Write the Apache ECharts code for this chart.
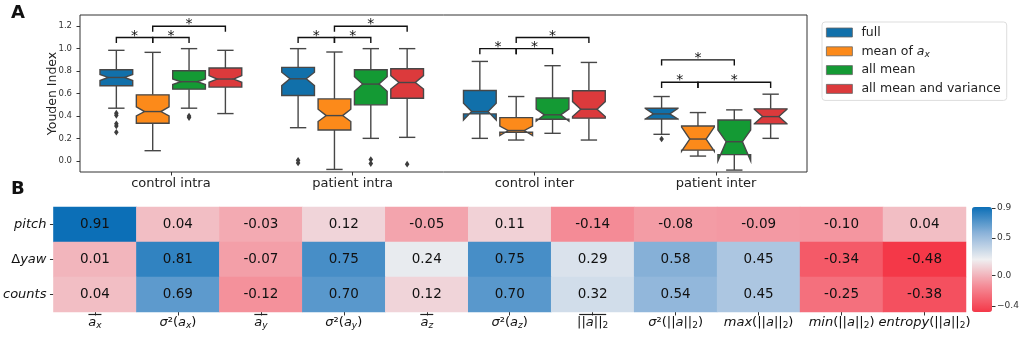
<!DOCTYPE html>
<html>
<head>
<meta charset="utf-8">
<script src="https://cdn.jsdelivr.net/npm/echarts@6/dist/echarts.min.js"></script>
<style>
html, body { margin: 0; background: #fff; }
#main { width: 1024px; height: 338px; }
</style>
</head>
<body>
<div id="main"></div>
<script>
// ---- panel A: Youden index box plots ----
const groups = ['control intra', 'patient intra', 'control inter', 'patient inter'];
const hueNames = ['full', 'mean of a_x', 'all mean', 'all mean and variance'];
const hueColors = ['#1170aa', '#fc8a1a', '#149a34', '#dc3a3c'];

// per group: [whiskerLow, q1, notchLow, median, notchHigh, q3, whiskerHigh]
const boxFull = [
  [0.469, 0.669, 0.715, 0.743, 0.77, 0.812, 0.985],
  [0.295, 0.582, 0.67, 0.731, 0.79, 0.833, 1.0],
  [0.20, 0.418, 0.364, 0.439, 0.514, 0.627, 0.886],
  [0.236, 0.373, 0.372, 0.418, 0.468, 0.469, 0.573]
];
const boxMeanAx = [
  [0.09, 0.335, 0.40, 0.439, 0.48, 0.588, 0.967],
  [-0.077, 0.275, 0.35, 0.403, 0.46, 0.552, 0.97],
  [0.185, 0.255, 0.225, 0.27, 0.31, 0.385, 0.573],
  [0.042, 0.095, 0.085, 0.194, 0.30, 0.31, 0.43]
];
const boxAllMean = [
  [0.469, 0.639, 0.68, 0.705, 0.73, 0.803, 1.0],
  [0.20, 0.499, 0.62, 0.684, 0.75, 0.812, 1.0],
  [0.245, 0.37, 0.355, 0.41, 0.46, 0.56, 0.848],
  [-0.083, 0.055, 0.0, 0.17, 0.275, 0.364, 0.454]
];
const boxAllMeanVar = [
  [0.421, 0.657, 0.70, 0.729, 0.76, 0.827, 0.985],
  [0.209, 0.558, 0.64, 0.698, 0.76, 0.821, 1.0],
  [0.185, 0.38, 0.394, 0.46, 0.528, 0.624, 0.877],
  [0.20, 0.329, 0.33, 0.394, 0.46, 0.463, 0.594]
];
// [group, hue, value]
const outliers = [
  [0, 0, 0.425], [0, 0, 0.405], [0, 0, 0.33], [0, 0, 0.31], [0, 0, 0.255],
  [0, 2, 0.40], [0, 2, 0.385],
  [1, 0, 0.005], [1, 0, -0.02],
  [1, 2, 0.012], [1, 2, -0.025],
  [1, 3, -0.03],
  [3, 0, 0.194]
];
// significance brackets: [group, hueFrom, hueTo, level, legEnd]
const brackets = [
  [0, 0, 1, 1.10, 1.05], [0, 1, 2, 1.10, 1.05], [0, 1, 3, 1.20, 1.15],
  [1, 0, 1, 1.10, 1.05], [1, 1, 2, 1.10, 1.05], [1, 1, 3, 1.20, 1.15],
  [2, 0, 1, 1.00, 0.95], [2, 1, 2, 1.00, 0.95], [2, 1, 3, 1.10, 1.05],
  [3, 0, 1, 0.70, 0.65], [3, 1, 3, 0.70, 0.65], [3, 0, 2, 0.90, 0.85]
];
const yTicks = [0, 0.2, 0.4, 0.6, 0.8, 1.0, 1.2];

// ---- panel B: correlation heatmap ----
const featLabels = [
  '{ol1| }\n{i|a}{s|x}',
  '{sp| }\n{i|σ}{r|²(}{i|a}{s|x}{r|)}',
  '{ol1| }\n{i|a}{s|y}',
  '{sp| }\n{i|σ}{r|²(}{i|a}{s|y}{r|)}',
  '{ol1| }\n{i|a}{s|z}',
  '{sp| }\n{i|σ}{r|²(}{i|a}{s|z}{r|)}',
  '{ol2| }\n{r|||}{i|a}{r|||}{sr|2}',
  '{sp| }\n{i|σ}{r|²(||}{i|a}{r|||}{sr|2}{r|)}',
  '{sp| }\n{i|max}{r|(||}{i|a}{r|||}{sr|2}{r|)}',
  '{sp| }\n{i|min}{r|(||}{i|a}{r|||}{sr|2}{r|)}',
  '{sp| }\n{i|entropy}{r|(||}{i|a}{r|||}{sr|2}{r|)}'
];
const targetLabels = ['{i|pitch}', '{r|Δ}{i|yaw}', '{i|counts}'];
const corrPitch = [0.91, 0.04, -0.03, 0.12, -0.05, 0.11, -0.14, -0.08, -0.09, -0.10, 0.04];
const corrYaw = [0.01, 0.81, -0.07, 0.75, 0.24, 0.75, 0.29, 0.58, 0.45, -0.34, -0.48];
const corrCounts = [0.04, 0.69, -0.12, 0.70, 0.12, 0.70, 0.32, 0.54, 0.45, -0.25, -0.38];
const cbarTicks = [-0.4, 0.0, 0.5, 0.9];
const cbarMin = -0.48;
const cbarMax = 0.91;

const FONT = 'DejaVu Sans';
const EDGE = '#474747';

const chart = echarts.init(document.getElementById('main'));

function hueX(api, g, h) {
  const band = api.size([1, 0])[0];
  const step = band * 0.8 / 4;
  return { x: api.coord([g, 0])[0] + (h - 1.5) * step, w: step * 0.9 };
}

function boxRender(h) {
  return function (params, api) {
    const g = api.value(0);
    const p = hueX(api, g, h);
    const y = i => api.coord([g, api.value(i)])[1];
    const wl = y(1), q1 = y(2), cl = y(3), md = y(4), ch = y(5), q3 = y(6), wh = y(7);
    const bl = p.x - p.w / 2, br = p.x + p.w / 2;
    const nl = p.x - p.w / 4, nr = p.x + p.w / 4;
    const cap = p.w / 4;
    const ln = { stroke: EDGE, lineWidth: 1.4 };
    return {
      type: 'group',
      children: [
        { type: 'line', shape: { x1: p.x, y1: q3, x2: p.x, y2: wh }, style: ln },
        { type: 'line', shape: { x1: p.x, y1: q1, x2: p.x, y2: wl }, style: ln },
        { type: 'line', shape: { x1: p.x - cap, y1: wh, x2: p.x + cap, y2: wh }, style: ln },
        { type: 'line', shape: { x1: p.x - cap, y1: wl, x2: p.x + cap, y2: wl }, style: ln },
        {
          type: 'polygon',
          shape: { points: [[bl, q1], [br, q1], [br, cl], [nr, md], [br, ch], [br, q3], [bl, q3], [bl, ch], [nl, md], [bl, cl]] },
          style: { fill: api.visual('color'), stroke: EDGE, lineWidth: 1.4 }
        },
        { type: 'line', shape: { x1: nl, y1: md, x2: nr, y2: md }, style: ln }
      ]
    };
  };
}

const boxSets = [boxFull, boxMeanAx, boxAllMean, boxAllMeanVar];
const boxSeries = boxSets.map((set, h) => ({
  name: hueNames[h],
  type: 'custom',
  xAxisIndex: 0,
  yAxisIndex: 0,
  itemStyle: { color: hueColors[h] },
  encode: { x: 0, y: [1, 2, 3, 4, 5, 6, 7] },
  renderItem: boxRender(h),
  data: set.map((b, g) => [g].concat(b)),
  silent: true
}));

const outlierSeries = {
  type: 'custom',
  xAxisIndex: 0,
  yAxisIndex: 0,
  encode: { x: 0, y: 2 },
  silent: true,
  data: outliers,
  renderItem: function (params, api) {
    const g = api.value(0);
    const p = hueX(api, g, api.value(1));
    const yy = api.coord([g, api.value(2)])[1];
    return {
      type: 'polygon',
      shape: { points: [[p.x, yy - 3.3], [p.x + 2.3, yy], [p.x, yy + 3.3], [p.x - 2.3, yy]] },
      style: { fill: '#3d3d3d' }
    };
  }
};

const bracketSeries = {
  type: 'custom',
  xAxisIndex: 0,
  yAxisIndex: 0,
  encode: { x: 0, y: 3 },
  silent: true,
  data: brackets,
  renderItem: function (params, api) {
    const g = api.value(0);
    const x1 = hueX(api, g, api.value(1)).x;
    const x2 = hueX(api, g, api.value(2)).x;
    const lv = api.coord([g, api.value(3)])[1];
    const lg = api.coord([g, api.value(4)])[1];
    return {
      type: 'group',
      children: [
        { type: 'polyline', shape: { points: [[x1, lg], [x1, lv], [x2, lv], [x2, lg]] }, style: { stroke: '#111', lineWidth: 1.4, fill: null } },
        { type: 'text', x: (x1 + x2) / 2, y: lv - 1.5, style: { text: '*', fontSize: 14, fontFamily: FONT, fill: '#111', align: 'center', verticalAlign: 'middle' } }
      ]
    };
  }
};

const heatData = [];
[corrPitch, corrYaw, corrCounts].forEach((row, r) => {
  row.forEach((v, c) => heatData.push([c, r, v]));
});

const labelRich = {
  ol1: { width: 13, height: 1.2, backgroundColor: '#222', lineHeight: 3, fontSize: 2 },
  ol2: { width: 27, height: 1.2, backgroundColor: '#222', lineHeight: 3, fontSize: 2 },
  sp: { lineHeight: 3, fontSize: 2 },
  i: { fontStyle: 'italic', fontSize: 13, lineHeight: 14, fontFamily: FONT, color: '#111' },
  r: { fontSize: 13, lineHeight: 14, fontFamily: FONT, color: '#111' },
  s: { fontStyle: 'italic', fontSize: 9, lineHeight: 6, verticalAlign: 'bottom', fontFamily: FONT, color: '#111' },
  sr: { fontSize: 9, lineHeight: 6, verticalAlign: 'bottom', fontFamily: FONT, color: '#111' }
};

chart.setOption({
  animation: false,
  textStyle: { fontFamily: FONT },
  graphic: [
    { type: 'text', left: 11, top: 4, style: { text: 'A', fontSize: 18, fontWeight: 'bold', fontFamily: FONT, fill: '#111' } },
    { type: 'text', left: 11, top: 180, style: { text: 'B', fontSize: 18, fontWeight: 'bold', fontFamily: FONT, fill: '#111' } }
  ],
  legend: {
    data: hueNames,
    orient: 'vertical',
    left: 822,
    top: 22,
    icon: 'rect',
    itemWidth: 26,
    itemHeight: 9,
    itemGap: 3.8,
    padding: [3, 6, 4, 4],
    borderColor: '#ddd',
    borderWidth: 1,
    borderRadius: 3,
    selectedMode: false,
    itemStyle: { borderColor: '#666', borderWidth: 0.8 },
    formatter: name => name === 'mean of a_x' ? '{r|mean of }{i|a}{s|x}' : '{r|' + name + '}',
    textStyle: {
      fontFamily: FONT, fontSize: 12.5, color: '#222', lineHeight: 15, padding: [0, 0, 0, 4],
      rich: {
        r: { fontSize: 12.5, lineHeight: 15, fontFamily: FONT, color: '#222' },
        i: { fontSize: 12.5, lineHeight: 15, fontStyle: 'italic', fontFamily: FONT, color: '#222' },
        s: { fontSize: 9, lineHeight: 7, verticalAlign: 'bottom', fontStyle: 'italic', fontFamily: FONT, color: '#222' }
      }
    }
  },
  grid: [
    { left: 80, top: 15, width: 727, height: 157, show: true, borderColor: '#333', borderWidth: 1, backgroundColor: 'transparent' },
    { left: 53, top: 207, width: 913, height: 105 },
    { left: 972, top: 207, width: 20, height: 105 }
  ],
  xAxis: [
    {
      gridIndex: 0, type: 'category', data: groups,
      axisLine: { show: false, onZero: false },
      axisTick: { show: true, interval: 0, alignWithLabel: true, length: 3.5, lineStyle: { color: '#333' } },
      axisLabel: { interval: 0, fontSize: 13, color: '#222', margin: 5, fontFamily: FONT },
      splitLine: { show: false }
    },
    {
      gridIndex: 1, type: 'category', data: featLabels,
      axisLine: { show: false, onZero: false },
      axisTick: { show: true, interval: 0, alignWithLabel: true, length: 3.5, lineStyle: { color: '#333' } },
      axisLabel: { interval: 0, margin: 1, rich: labelRich },
      splitLine: { show: false }
    },
    { gridIndex: 2, type: 'value', show: false, min: 0, max: 1 }
  ],
  yAxis: [
    {
      gridIndex: 0, type: 'value', min: -0.1, max: 1.3,
      name: 'Youden Index', nameLocation: 'middle', nameGap: 21, nameMoveOverlap: false,
      nameTextStyle: { fontSize: 12.5, color: '#222', fontFamily: FONT },
      axisLine: { show: false, onZero: false },
      axisTick: { show: true, length: 3.5, customValues: yTicks, lineStyle: { color: '#333' } },
      axisLabel: { customValues: yTicks, fontSize: 8.5, color: '#333', margin: 8, formatter: v => v.toFixed(1) },
      splitLine: { show: false }
    },
    {
      gridIndex: 1, type: 'category', data: targetLabels, inverse: true,
      axisLine: { show: false, onZero: false },
      axisTick: { show: true, interval: 0, alignWithLabel: true, length: 3.5, lineStyle: { color: '#333' } },
      axisLabel: { interval: 0, margin: 7, rich: labelRich },
      splitLine: { show: false }
    },
    {
      gridIndex: 2, type: 'value', min: cbarMin, max: cbarMax, position: 'right',
      axisLine: { show: false, onZero: false },
      axisTick: { show: true, length: 3.5, customValues: cbarTicks, lineStyle: { color: '#333' } },
      axisLabel: {
        customValues: cbarTicks, fontSize: 9, color: '#333', margin: 5,
        formatter: v => (v < 0 ? '\u2212' + Math.abs(v).toFixed(1) : v.toFixed(1))
      },
      splitLine: { show: false }
    }
  ],
  visualMap: {
    type: 'continuous',
    seriesIndex: 6,
    min: cbarMin,
    max: cbarMax,
    calculable: false,
    hoverLink: false,
    orient: 'vertical',
    left: 972,
    top: 207,
    padding: 0,
    itemWidth: 20,
    itemHeight: 105,
    text: null,
    inRange: { color: ['#f43848', '#f48d98', '#efeff1', '#8cb3d9', '#0c6fb7'] }
  },
  series: boxSeries.concat([
    outlierSeries,
    bracketSeries,
    {
      type: 'heatmap',
      xAxisIndex: 1,
      yAxisIndex: 1,
      data: heatData,
      silent: true,
      label: {
        show: true, fontSize: 13.5, color: '#111', fontFamily: FONT,
        formatter: p => p.value[2].toFixed(2)
      },
      emphasis: { disabled: true }
    }
  ])
});
</script>
</body>
</html>
